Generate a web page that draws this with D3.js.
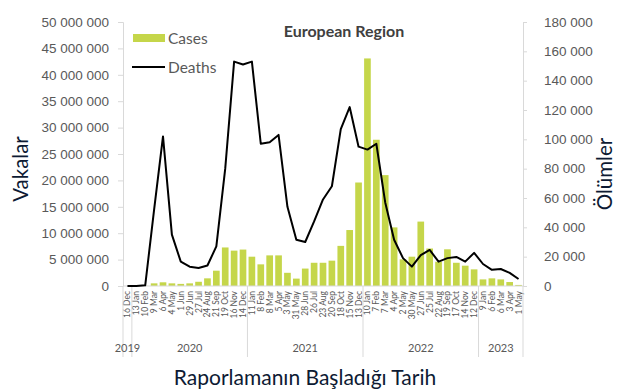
<!DOCTYPE html>
<html><head><meta charset="utf-8">
<script src="https://cdn.jsdelivr.net/npm/d3@7"></script>
<style>
body{margin:0;background:#fff;}
svg{display:block;font-family:Lato, "Liberation Sans", sans-serif;}
</style></head>
<body><svg id="c" width="630" height="390"></svg>
<script>
const categories = ["16 Dec","13 Jan","10 Feb","9 Mar","6 Apr","4 May","1 Jun","29 Jun","27 Jul","24 Aug","21 Sep","19 Oct","16 Nov","14 Dec",
 "11 Jan","8 Feb","8 Mar","5 Apr","3 May","31 May","28 Jun","26 Jul","23 Aug","20 Sep","18 Oct","15 Nov","13 Dec",
 "10 Jan","7 Feb","7 Mar","4 Apr","2 May","30 May","27 Jun","25 Jul","22 Aug","19 Sep","17 Oct","14 Nov","12 Dec",
 "9 Jan","6 Feb","6 Mar","3 Apr","1 May"];
const years = ["2019","2020","2021","2022","2023"];
const yearCounts = [1,13,13,13,5];
const cases = [0,5000,20000,500000,700000,500000,400000,500000,800000,1450000,2900000,7300000,6700000,6900000,
 5550000,4100000,5800000,5800000,2500000,1400000,3300000,4400000,4400000,4800000,7600000,10600000,19600000,
 43100000,27700000,21000000,11100000,5050000,5550000,12200000,7100000,4600000,6950000,4400000,3850000,3150000,
 1250000,1450000,1250000,750000,200000];
const deaths = [0,0,500,52000,102000,35000,16600,13200,12300,14000,27000,80000,153000,151000,
 153000,97000,98000,103000,54000,31500,30000,44000,59000,68000,107000,122000,95000,
 93000,97000,57000,31500,19000,13200,21000,24600,16600,19000,19800,16600,22600,
 15000,11000,11600,8900,4800];
const leftTicks = [0,5e6,10e6,15e6,20e6,25e6,30e6,35e6,40e6,45e6,50e6];
const rightTicks = [0,20000,40000,60000,80000,100000,120000,140000,160000,180000];

const svg = d3.select("#c");
const L=123, R=523, T=22, B=286;
const x = d3.scaleBand().domain(categories).range([L,R]).paddingInner(0.25).paddingOuter(0.125);
const yL = d3.scaleLinear().domain([0,50e6]).range([B,T]);
const yR = d3.scaleLinear().domain([0,180000]).range([B,T]);
const fmt = v => d3.format(",")(v).replace(/,/g," ");
const grey="#595959";

// bars
svg.append("g").selectAll("rect").data(cases).join("rect")
 .attr("x",(d,i)=>x(categories[i])).attr("width",x.bandwidth())
 .attr("y",d=>yL(d)).attr("height",d=>B-yL(d)).attr("fill","#c5d64a");

// left axis
const gl = svg.append("g").attr("transform",`translate(${L},0)`)
 .call(d3.axisLeft(yL).tickValues(leftTicks).tickFormat(fmt).tickSize(5).tickPadding(9));
gl.selectAll("text").attr("fill",grey).style("font-size","13.5px");
gl.selectAll("line,path").attr("stroke","#d9d9d9");
// right axis
const gr = svg.append("g").attr("transform",`translate(${R},0)`)
 .call(d3.axisRight(yR).tickValues(rightTicks).tickFormat(fmt).tickSize(4).tickPadding(17));
gr.selectAll("text").attr("fill",grey).style("font-size","13.5px");
gr.selectAll("line,path").attr("stroke","#d9d9d9");

// x axis line
svg.append("line").attr("x1",L).attr("x2",R).attr("y1",B).attr("y2",B).attr("stroke","#d9d9d9");
// category labels
svg.append("g").selectAll("text").data(categories).join("text")
 .attr("transform",(d)=>`translate(${x(d)+x.bandwidth()/2+3},${B+5}) rotate(-90)`)
 .attr("text-anchor","end").attr("fill",grey).style("font-size","8.5px").text(d=>d);
// year separators and labels
const step = x.step();
let acc=0;
const sepIdx=[0];
yearCounts.forEach(c=>{acc+=c;sepIdx.push(acc);});
svg.append("g").selectAll("line").data(sepIdx).join("line")
 .attr("x1",i=>L+i*step).attr("x2",i=>L+i*step).attr("y1",B).attr("y2",357)
 .attr("stroke","#d9d9d9");
svg.append("g").selectAll("text").data(years).join("text")
 .attr("x",(d,i)=>L+(sepIdx[i]+sepIdx[i+1])/2*step).attr("y",352)
 .attr("text-anchor","middle").attr("fill",grey).style("font-size","11px").text(d=>d);

// deaths line
const line = d3.line().x((d,i)=>x(categories[i])+x.bandwidth()/2).y(d=>yR(d));
svg.append("path").datum(deaths).attr("d",line).attr("fill","none").attr("stroke","#000").attr("stroke-width",2).attr("stroke-linejoin","round");

// title
svg.append("text").attr("x",344).attr("y",37).attr("text-anchor","middle").attr("fill","#404040")
 .style("font-size","16px").style("font-weight","bold").text("European Region");

// legend
svg.append("rect").attr("x",133).attr("y",34).attr("width",32).attr("height",8).attr("fill","#c5d64a");
svg.append("text").attr("x",168).attr("y",44).attr("fill",grey).style("font-size","15.5px").text("Cases");
svg.append("line").attr("x1",132).attr("x2",165).attr("y1",67).attr("y2",67).attr("stroke","#000").attr("stroke-width",2);
svg.append("text").attr("x",168).attr("y",73).attr("fill",grey).style("font-size","15.5px").text("Deaths");

// axis titles
svg.append("text").attr("transform","translate(28,169) rotate(-90)").attr("text-anchor","middle")
 .attr("fill","#0d1a33").style("font-size","20.5px").text("Vakalar");
svg.append("text").attr("transform","translate(612,174) rotate(-90)").attr("text-anchor","middle")
 .attr("fill","#0d1a33").style("font-size","20.5px").text("Ölümler");
svg.append("text").attr("x",305).attr("y",385).attr("text-anchor","middle")
 .attr("fill","#0d1a33").style("font-size","21px").text("Raporlamanın Başladığı Tarih");
</script></body></html>
